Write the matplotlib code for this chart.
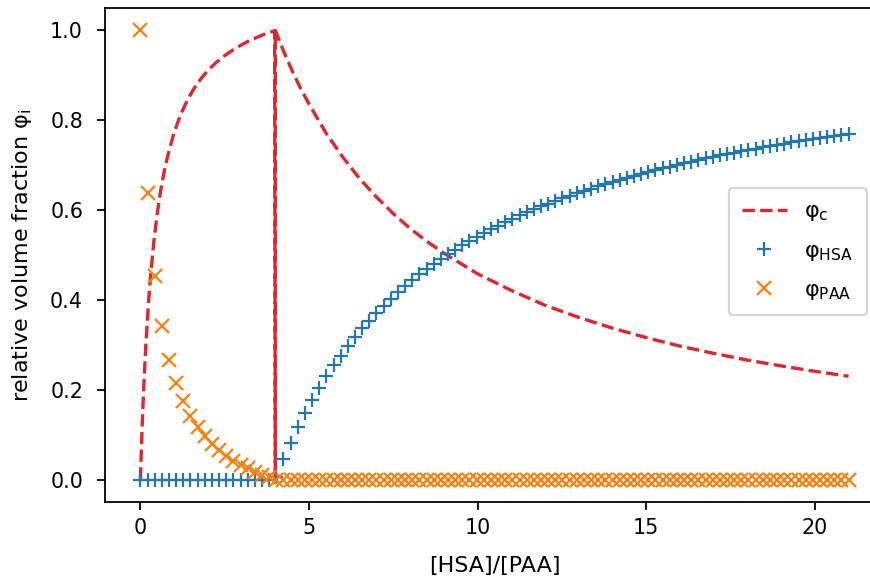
import numpy as np
import matplotlib
matplotlib.use("Agg")
import matplotlib.pyplot as plt

# marker grid ([HSA]/[PAA])
ratio = np.linspace(0, 21, 100)

phi_hsa = [0.0] * 19 + [
    0.006, 0.046, 0.082, 0.116, 0.148, 0.177, 0.204, 0.230, 0.254, 0.276,
    0.298, 0.318, 0.337, 0.354, 0.371, 0.387, 0.403, 0.417, 0.431, 0.444,
    0.457, 0.469, 0.480, 0.491, 0.502, 0.512, 0.522, 0.531, 0.540, 0.549,
    0.557, 0.565, 0.573, 0.581, 0.588, 0.595, 0.602, 0.608, 0.614, 0.620,
    0.626, 0.632, 0.638, 0.643, 0.648, 0.653, 0.658, 0.663, 0.668, 0.672,
    0.677, 0.681, 0.685, 0.689, 0.693, 0.697, 0.701, 0.705, 0.708, 0.712,
    0.715, 0.719, 0.722, 0.725, 0.728, 0.731, 0.734, 0.737, 0.740, 0.743,
    0.746, 0.748, 0.751, 0.753, 0.756, 0.758, 0.761, 0.763, 0.765, 0.768,
    0.770]

phi_paa = [
    1.000, 0.637, 0.453, 0.341, 0.267, 0.214, 0.174, 0.142, 0.117, 0.097,
    0.080, 0.065, 0.053, 0.042, 0.033, 0.025, 0.017, 0.011, 0.005] + [0.0] * 81

# complex fraction curve
ratio_c = [0.0, 0.01, 0.025, 0.05, 0.075, 0.1, 0.15, 0.2, 0.25, 0.3, 0.4, 0.5,
           0.6, 0.7, 0.8, 1.0, 1.2, 1.4, 1.6, 1.8, 2.0, 2.25, 2.5, 2.75, 3.0,
           3.25, 3.5, 3.75, 3.98, 4.0, 4.0, 4.25, 4.5, 4.75, 5.0, 5.5, 6.0,
           6.5, 7.0, 7.5, 8.0, 8.5, 9.0, 10.0, 11.0, 12.0, 13.0, 14.0, 15.0,
           16.0, 17.0, 18.0, 19.0, 20.0, 21.0]
phi_c = [0.0, 0.025, 0.060, 0.114, 0.163, 0.207, 0.284, 0.349, 0.405, 0.453,
         0.531, 0.593, 0.643, 0.684, 0.718, 0.773, 0.814, 0.846, 0.872, 0.893,
         0.911, 0.929, 0.944, 0.957, 0.968, 0.978, 0.986, 0.994, 0.999, 0.0,
         1.0, 0.953, 0.910, 0.871, 0.836, 0.772, 0.718, 0.670, 0.629, 0.592,
         0.559, 0.530, 0.504, 0.458, 0.421, 0.388, 0.361, 0.337, 0.316, 0.297,
         0.281, 0.266, 0.253, 0.241, 0.230]

DPI = 160
fig = plt.figure(figsize=(870 / DPI, 579 / DPI), dpi=DPI)
ax = fig.add_axes([105 / 870, 77 / 579, 779 / 870, 494 / 579])

ax.plot(ratio_c, phi_c, '--', color='#e0262b', label='φ$_\\mathrm{c}$')
ax.plot(ratio, phi_hsa, '+', color='#1f77b4', label='φ$_\\mathrm{HSA}$')
ax.plot(ratio, phi_paa, 'x', color='#ff7f0e', label='φ$_\\mathrm{PAA}$')

ax.set_xlabel('[HSA]/[PAA]', labelpad=8.5)
ax.set_ylabel('relative volume fraction φ$_\\mathrm{i}$', labelpad=7)
ax.set_xticks([0, 5, 10, 15, 20])
ax.set_yticks([0.0, 0.2, 0.4, 0.6, 0.8, 1.0])
ax.tick_params(axis='both', labelsize=9.3)
ax.tick_params(axis='y', pad=6.4)
ax.legend(loc='center right', bbox_to_anchor=(0.978, 0.507), borderaxespad=0,
          fontsize=10, labelspacing=0.77, borderpad=0.61)

fig.savefig('out.png', dpi=DPI)
